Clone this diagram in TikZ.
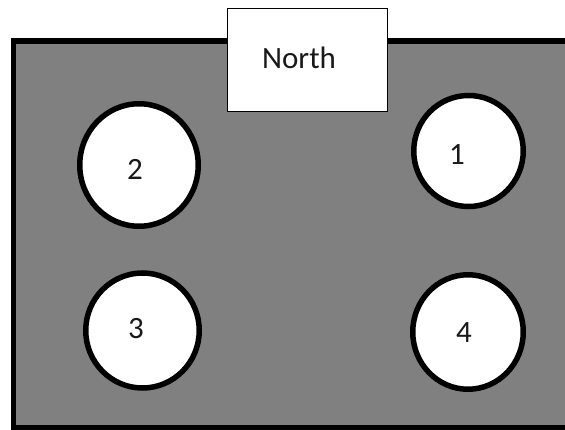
\documentclass[tikz,border=0pt]{standalone}
\usepackage{fontspec}
\setmainfont{Carlito}
\usetikzlibrary{shapes.geometric}
\definecolor{floorgray}{RGB}{128,128,128}
\tikzset{
  hole/.style={draw=black, fill=white, ellipse, line width=5.5pt, inner sep=0pt},
  lbl/.style={inner sep=0pt, font=\fontsize{31}{36}\selectfont, text=black!90},
  northbox/.style={draw=black, fill=white, line width=1.3pt, minimum width=160pt, minimum height=103pt, inner sep=0pt}
}
\begin{document}
\begin{tikzpicture}[x=1pt, y=-1pt]
\useasboundingbox (0,0) rectangle (565,430);
\fill[white] (0,0) rectangle (565,430);
% floor
\draw[fill=floorgray, line width=5.5pt] (13.5,41) rectangle (580,427.5);
% north box
\node[northbox] (north) at (307.5,60) {};
\node[lbl] (northtext) at (299,58) {North};
% holes
\node[hole, minimum width=118.5pt, minimum height=122.5pt] (h2) at (139,165) {};
\node[hole, minimum width=109.5pt, minimum height=111pt] (h1) at (468.5,151) {};
\node[hole, minimum width=113.5pt, minimum height=115pt] (h3) at (142.5,330.5) {};
\node[hole, minimum width=110.5pt, minimum height=114.5pt] (h4) at (468,332) {};
\node[lbl] (t2) at (135,169) {2};
\node[lbl] (t1) at (457,155) {1};
\node[lbl] (t3) at (136,329) {3};
\node[lbl] (t4) at (464,333) {4};
\end{tikzpicture}
\end{document}
